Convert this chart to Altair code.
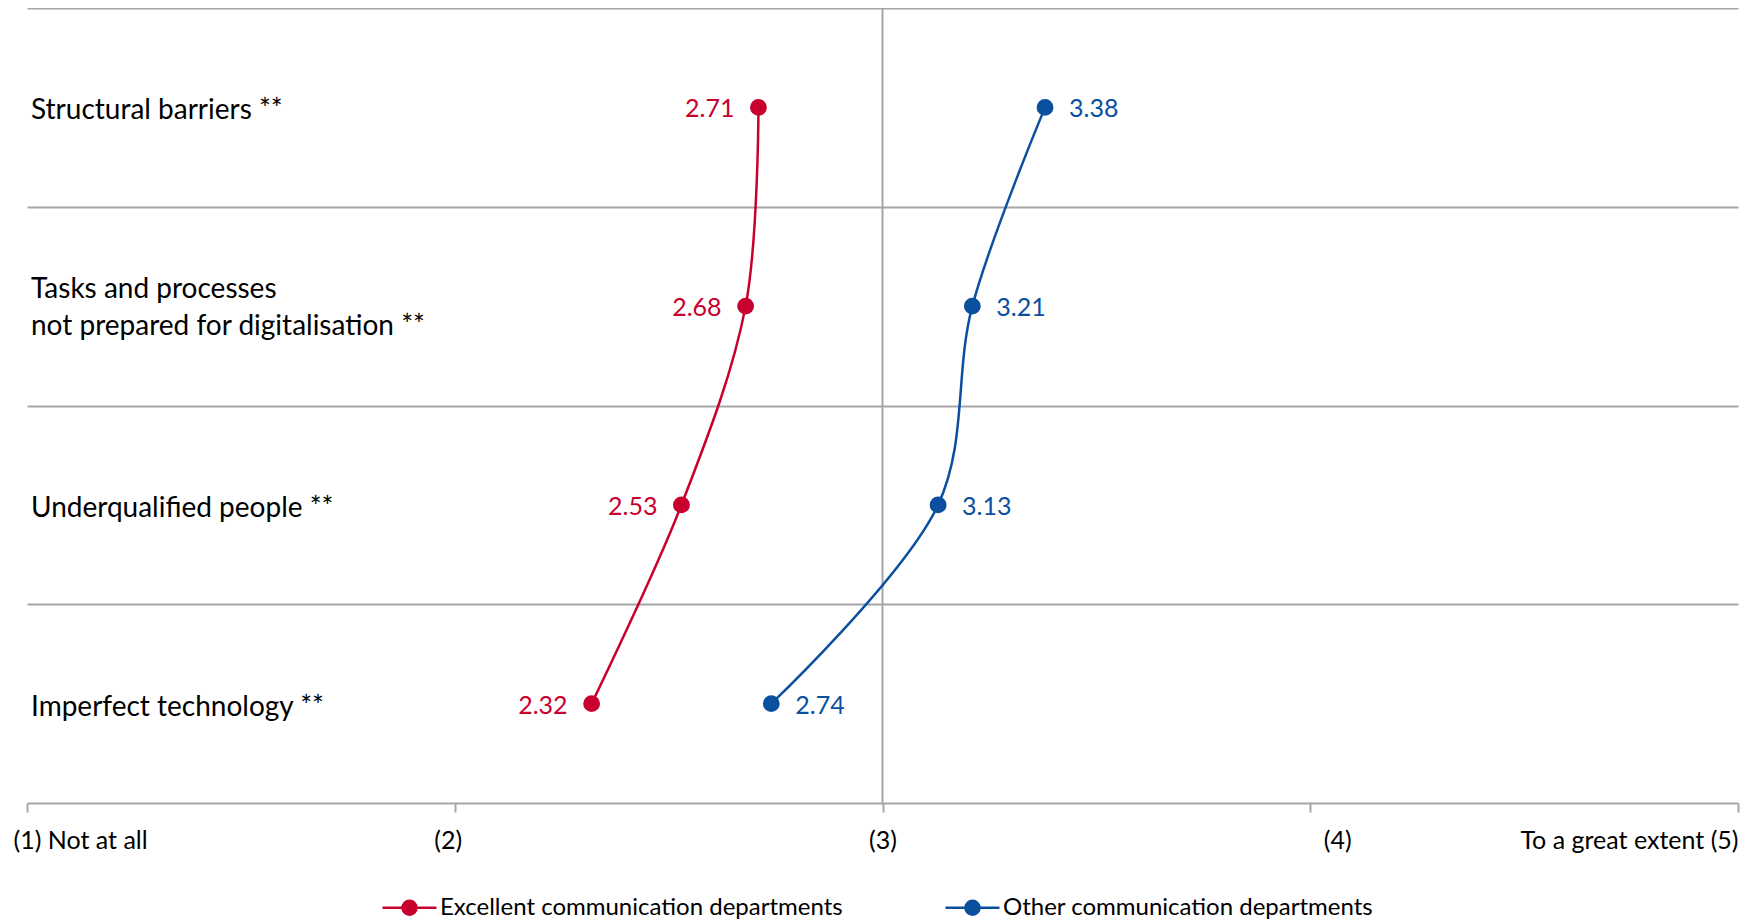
import json
import altair as alt
import pandas as pd

categories = [
    "Structural barriers **",
    "Tasks and processes\nnot prepared for digitalisation **",
    "Underqualified people **",
    "Imperfect technology **",
]
excellent = [2.71, 2.68, 2.53, 2.32]
other = [3.38, 3.21, 3.13, 2.74]
series = ["Excellent communication departments", "Other communication departments"]
colors = ["#C8002E", "#0B4F9F"]
tick_values = [1, 2, 3, 4, 5]
tick_labels = ["(1) Not at all", "(2)", "(3)", "(4)", "To a great extent (5)"]

FONT = "Lato"
GRID = "#A6A6A6"

rows = []
for s, vals in zip(series, [excellent, other]):
    for i, (c, v) in enumerate(zip(categories, vals)):
        rows.append({"series": s, "idx": i, "category": c, "value": v, "label": f"{v:.2f}"})
df = pd.DataFrame(rows)
cat_df = pd.DataFrame({"idx": list(range(len(categories))), "category": categories, "x": [1] * len(categories)})

xscale = alt.Scale(domain=[1, 5], nice=False, zero=False)
yscale = alt.Scale(domain=[-0.5, len(categories) - 0.5], reverse=True, nice=False, zero=False)
cscale = alt.Scale(domain=series, range=colors)

label_expr = json.dumps(tick_labels) + "[datum.value - 1]"

xaxis = alt.Axis(
    values=tick_values, labelExpr=label_expr, title=None, grid=False,
    domainColor=GRID, domainWidth=2, tickColor=GRID, tickWidth=2, tickSize=9,
    labelFont=FONT, labelFontSize=25, labelColor="#000000", labelPadding=16, labelLimit=0,
    labelAlign=alt.expr("datum.value == 1 ? 'left' : datum.value == 5 ? 'right' : 'center'"),
    labelOffset=alt.expr("datum.value == 1 ? -14 : datum.value == 4 ? 27 : datum.value == 2 ? -7 : 0"),
    labelFlush=False, labelOverlap=False,
)
yaxis = alt.Axis(
    values=[-0.5 + i for i in range(len(categories))], grid=True, gridColor=GRID, gridWidth=2,
    labels=False, ticks=False, domain=False, title=None,
)

sym_path = "M-1,0H1M0.26,0A0.26,0.26,0,1,1,-0.26,0A0.26,0.26,0,1,1,0.26,0Z"
legend = alt.Legend(
    orient="none", legendX=354, legendY=871, direction="horizontal", title=None,
    symbolType=sym_path, symbolSize=2916, symbolStrokeWidth=2.5, labelFont=FONT,
    labelFontSize=24, labelColor="#000000", labelLimit=0, labelOffset=2, columnPadding=97,
)

base = alt.Chart(df)

vline = alt.Chart(pd.DataFrame({"x": [3]})).mark_rule(color=GRID, strokeWidth=2).encode(
    x=alt.X("x:Q", scale=xscale, axis=xaxis)
)

lines = base.mark_line(interpolate="catmull-rom", strokeWidth=2.5).encode(
    x=alt.X("value:Q", scale=xscale, axis=xaxis),
    y=alt.Y("idx:Q", scale=yscale, axis=yaxis),
    stroke=alt.Stroke("series:N", scale=cscale, legend=legend),
    detail="series:N",
    order="idx:Q",
)
points = base.mark_point(filled=True, size=220, opacity=1).encode(
    x=alt.X("value:Q", scale=xscale),
    y=alt.Y("idx:Q", scale=yscale),
    fill=alt.Fill("series:N", scale=cscale, legend=legend),
    stroke=alt.Stroke("series:N", scale=cscale, legend=legend),
)
red_labels = base.transform_filter(alt.datum.series == series[0]).mark_text(
    align="right", baseline="middle", dx=-24, dy=2, font=FONT, fontSize=25
).encode(
    x=alt.X("value:Q", scale=xscale), y=alt.Y("idx:Q", scale=yscale),
    text="label:N", color=alt.Color("series:N", scale=cscale, legend=None),
)
blue_labels = base.transform_filter(alt.datum.series == series[1]).mark_text(
    align="left", baseline="middle", dx=24, dy=2, font=FONT, fontSize=25
).encode(
    x=alt.X("value:Q", scale=xscale), y=alt.Y("idx:Q", scale=yscale),
    text="label:N", color=alt.Color("series:N", scale=cscale, legend=None),
)
cat_labels = alt.Chart(cat_df).mark_text(
    align="left", baseline="middle", dx=4, font=FONT, fontSize=28, color="#000000",
    lineBreak="\n", lineHeight=37,
    dy=alt.expr("4 - (length(split(datum.category, '\\n')) - 1) * 20.5"),
).encode(
    x=alt.X("x:Q", scale=xscale), y=alt.Y("idx:Q", scale=yscale), text="category:N"
)

chart = alt.layer(vline, lines, points, red_labels, blue_labels, cat_labels).properties(
    width=1711, height=795,
    autosize=alt.AutoSizeParams(type="none"),
    padding={"left": 19, "top": 0, "right": 4, "bottom": 116},
).configure_view(stroke=None)

chart.save("out.html", embed_options={"renderer": "svg", "actions": False})
